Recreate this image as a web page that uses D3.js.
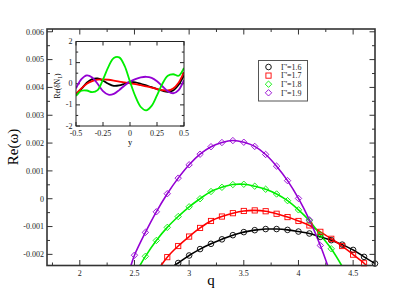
<!DOCTYPE html>
<html><head><meta charset="utf-8">
<script src="https://cdn.jsdelivr.net/npm/d3@7"></script>
<style>body{margin:0;background:#fff}svg{display:block}text{font-family:"Liberation Serif","Times New Roman",serif}</style>
</head><body>
<svg id="c" width="395" height="305"></svg>
<script>
// ---------- main chart data ----------
const seriesNames = ["Γ'=1.6", "Γ'=1.7", "Γ'=1.8", "Γ'=1.9"];
const seriesColors = ["#000000", "#ff0000", "#00ee00", "#9400d3"];
const seriesSymbols = ["circle", "square", "diamond", "diamond"];

const q16 = [2.9,3.0,3.1,3.2,3.3,3.4,3.5,3.6,3.7,3.8,3.9,4.0,4.1,4.2,4.3,4.4,4.5,4.6,4.7];
const w16 = [-0.00231,-0.00204,-0.00181,-0.00162,-0.00146,-0.00131,-0.00120,-0.00113,-0.00109,-0.00109,-0.00112,-0.00118,-0.00125,-0.00137,-0.00149,-0.00165,-0.00184,-0.00209,-0.00233];

const q17 = [2.8,2.9,3.0,3.1,3.2,3.3,3.4,3.5,3.6,3.7,3.8,3.9,4.0,4.1,4.2,4.3,4.4,4.5,4.6];
const w17 = [-0.00210,-0.00170,-0.00136,-0.00105,-0.00080,-0.00064,-0.00052,-0.00044,-0.00042,-0.00045,-0.00054,-0.00066,-0.00080,-0.00096,-0.00119,-0.00144,-0.00170,-0.00201,-0.00232];

const q18 = [2.6,2.7,2.8,2.9,3.0,3.1,3.2,3.3,3.4,3.5,3.6,3.7,3.8,3.9,4.0,4.1,4.2,4.3];
const w18 = [-0.00207,-0.00150,-0.00103,-0.00064,-0.00029,0.00000,0.00026,0.00041,0.00051,0.00052,0.00045,0.00034,0.00017,-0.00007,-0.00040,-0.00079,-0.00130,-0.00180];

const q19 = [2.5,2.6,2.7,2.8,2.9,3.0,3.1,3.2,3.3,3.4,3.5,3.6,3.7,3.8,3.9,4.0,4.1,4.2];
const w19 = [-0.00203,-0.00121,-0.00047,0.00018,0.00074,0.00122,0.00160,0.00187,0.00202,0.00209,0.00203,0.00188,0.00159,0.00117,0.00065,0.00001,-0.00076,-0.00168];

// where each curve leaves the plot
const lineStartQ = [2.864, 2.743, 2.55, 2.468];
const lineEndQ   = [4.70, 4.62, 4.395, 4.267];
const edgeW = -0.0024;

const xTicks = [2, 2.5, 3, 3.5, 4, 4.5];
const yTicks = [-0.002,-0.001,0,0.001,0.002,0.003,0.004,0.005,0.006];
const yTickLabels = ["-0.002","-0.001","0","0.001","0.002","0.003","0.004","0.005","0.006"];

// ---------- inset data ----------
const insetY = [-0.5,-0.45,-0.4,-0.35,-0.3,-0.25,-0.2,-0.15,-0.1,-0.05,0,0.05,0.1,0.15,0.2,0.25,0.3,0.35,0.4,0.45,0.5];
const n16 = [-0.55,-0.25,0.05,0.22,0.25,0.15,0.00,-0.10,-0.08,0.00,0.08,0.07,0.00,-0.08,-0.16,-0.25,-0.33,-0.38,-0.32,-0.05,0.40];
const n17 = [-0.48,-0.22,0.00,0.12,0.19,0.21,0.19,0.15,0.10,0.06,0.02,-0.02,-0.07,-0.12,-0.18,-0.25,-0.30,-0.32,-0.22,0.05,0.55];
const n18 = [-0.58,-0.33,-0.32,-0.40,-0.30,0.20,0.80,1.22,1.25,0.85,0.10,-0.60,-1.10,-1.26,-1.05,-0.55,0.00,0.38,0.45,0.38,0.75];
const n19 = [-0.22,0.22,0.40,0.30,0.00,-0.35,-0.52,-0.48,-0.30,-0.08,0.10,0.22,0.30,0.33,0.28,0.12,-0.12,-0.35,-0.45,-0.30,0.18];
const insetXTicks = [-0.5,-0.25,0,0.25,0.5];
const insetXLabels = ["-0.5","-0.25","0","0.25","0.5"];
const insetYTicks = [-2,-1,0,1,2];

// ---------- drawing ----------
const svg = d3.select("#c");
const L = 47, R = 375, T = 29, B = 265.5;
const x = d3.scaleLinear().domain([1.7, 4.7]).range([L, R]);
const y = d3.scaleLinear().domain([-0.0024, 0.0061]).range([B, T]);
const frameColor = "#333";

svg.append("defs").append("clipPath").attr("id","clipMain")
  .append("rect").attr("x",L).attr("y",T).attr("width",R-L).attr("height",B-T);

// ticks
const xMinor = d3.range(1.75, 4.71, 0.25).filter(v => Math.abs(v*2 - Math.round(v*2)) > 1e-6);
const yMinor = d3.range(-0.0015, 0.0061, 0.001);
const tg = svg.append("g").attr("stroke", frameColor).attr("stroke-width", 1);
function vt(v, len){
  tg.append("line").attr("x1",x(v)).attr("x2",x(v)).attr("y1",B).attr("y2",B-len);
  tg.append("line").attr("x1",x(v)).attr("x2",x(v)).attr("y1",T).attr("y2",T+len);
}
function ht(v, len){
  tg.append("line").attr("y1",y(v)).attr("y2",y(v)).attr("x1",L).attr("x2",L+len);
  tg.append("line").attr("y1",y(v)).attr("y2",y(v)).attr("x1",R).attr("x2",R-len);
}
xTicks.forEach(v => vt(v, 5.5));
xMinor.forEach(v => vt(v, 3));
yTicks.forEach(v => ht(v, 5.5));
yMinor.forEach(v => ht(v, 3));

// tick labels
svg.append("g").selectAll("text").data(xTicks).join("text")
  .attr("x", d => x(d)).attr("y", 275.5).attr("text-anchor","middle")
  .attr("font-size", 8).attr("fill","#222").text(d => String(d));
svg.append("g").selectAll("text").data(yTicks).join("text")
  .attr("x", 44).attr("y", d => y(d) + 2.8).attr("text-anchor","end")
  .attr("font-size", 8).attr("fill","#222").text((d,i) => yTickLabels[i]);

// axis titles
svg.append("text").attr("x", 211).attr("y", 285).attr("text-anchor","middle")
  .attr("font-size", 15).text("q");
svg.append("text").attr("transform","translate(18,147) rotate(-90)").attr("text-anchor","middle")
  .attr("font-size", 15).text("Re(ω)");

// series
const qs = [q16, q17, q18, q19];
const ws = [w16, w17, w18, w19];
const line = d3.line().x(d => x(d[0])).y(d => y(d[1])).curve(d3.curveCatmullRom.alpha(0.5));
const plot = svg.append("g").attr("clip-path","url(#clipMain)");
qs.forEach((qq, i) => {
  const pts = [[lineStartQ[i], edgeW]].concat(qq.map((q, j) => [q, ws[i][j]]));
  if (lineEndQ[i] > qq[qq.length-1] + 1e-6) pts.push([lineEndQ[i], edgeW]);
  plot.append("path").attr("d", line(pts)).attr("fill","none")
    .attr("stroke", seriesColors[i]).attr("stroke-width", 1.6);
});
function symbol(g, type, cx, cy, color){
  if (type === "circle") {
    g.append("circle").attr("cx",cx).attr("cy",cy).attr("r",2.8)
      .attr("fill","none").attr("stroke",color).attr("stroke-width",0.9);
  } else if (type === "square") {
    g.append("rect").attr("x",cx-2.6).attr("y",cy-2.6).attr("width",5.2).attr("height",5.2)
      .attr("fill","none").attr("stroke",color).attr("stroke-width",0.9);
  } else {
    const s = 3.2;
    g.append("path").attr("d",`M${cx},${cy-s}L${cx+s},${cy}L${cx},${cy+s}L${cx-s},${cy}Z`)
      .attr("fill","none").attr("stroke",color).attr("stroke-width",0.9);
  }
}
const mk = svg.append("g");
qs.forEach((qq, i) => qq.forEach((q, j) => symbol(mk, seriesSymbols[i], x(q), y(ws[i][j]), seriesColors[i])));

// frame
svg.append("rect").attr("x",L).attr("y",T).attr("width",R-L).attr("height",B-T)
  .attr("fill","none").attr("stroke",frameColor).attr("stroke-width",1.6);

// legend
const lg = svg.append("g");
lg.append("rect").attr("x",258.5).attr("y",60.5).attr("width",49).attr("height",40.5)
  .attr("fill","#fff").attr("stroke","#555").attr("stroke-width",1);
seriesNames.forEach((nm, i) => {
  const cy = 67 + i*8.6;
  symbol(lg, seriesSymbols[i], 268.5, cy, seriesColors[i]);
  lg.append("text").attr("x", 281).attr("y", cy + 2.8).attr("font-size", 8).attr("fill","#222").text(nm);
});

// ---------- inset ----------
const iL = 76, iR = 184, iT = 41.5, iB = 126;
const ix = d3.scaleLinear().domain([-0.5, 0.5]).range([iL, iR]);
const iy = d3.scaleLinear().domain([-2, 2]).range([iB, iT]);
const ins = svg.append("g");
ins.append("rect").attr("x",iL).attr("y",iT).attr("width",iR-iL).attr("height",iB-iT).attr("fill","#fff");
ins.append("defs").append("clipPath").attr("id","clipIn")
  .append("rect").attr("x",iL).attr("y",iT).attr("width",iR-iL).attr("height",iB-iT);
const itg = ins.append("g").attr("stroke","#222").attr("stroke-width",1);
insetXTicks.forEach(v => {
  itg.append("line").attr("x1",ix(v)).attr("x2",ix(v)).attr("y1",iB).attr("y2",iB-4);
  itg.append("line").attr("x1",ix(v)).attr("x2",ix(v)).attr("y1",iT).attr("y2",iT+4);
});
d3.range(-2, 2.01, 0.5).forEach(v => {
  const len = Number.isInteger(v) ? 4 : 2.2;
  itg.append("line").attr("y1",iy(v)).attr("y2",iy(v)).attr("x1",iL).attr("x2",iL+len);
  itg.append("line").attr("y1",iy(v)).attr("y2",iy(v)).attr("x1",iR).attr("x2",iR-len);
});
const iline = d3.line().x(d => ix(d[0])).y(d => iy(d[1])).curve(d3.curveCatmullRom.alpha(0.5));
const ipl = ins.append("g").attr("clip-path","url(#clipIn)");
const insetSeries = [n16, n17, n18, n19];
[0, 1, 3, 2].forEach(idx => {
  ipl.append("path").attr("d", iline(insetY.map((v, j) => [v, insetSeries[idx][j]])))
    .attr("fill","none").attr("stroke", seriesColors[idx]).attr("stroke-width", 1.8);
});
ins.append("rect").attr("x",iL).attr("y",iT).attr("width",iR-iL).attr("height",iB-iT)
  .attr("fill","none").attr("stroke","#222").attr("stroke-width",1);
ins.append("g").selectAll("text").data(insetXTicks).join("text")
  .attr("x", d => ix(d)).attr("y", 135.8).attr("text-anchor","middle").attr("font-size", 8)
  .attr("fill","#222").text((d,i) => insetXLabels[i]);
ins.append("g").selectAll("text").data(insetYTicks).join("text")
  .attr("x", 72.5).attr("y", d => iy(d) + 2.5).attr("text-anchor","end").attr("font-size", 8)
  .attr("fill","#222").text(d => String(d));
ins.append("text").attr("x", 130).attr("y", 144.5).attr("text-anchor","middle").attr("font-size", 8.5).text("y");
const yl = ins.append("text").attr("transform","translate(60,86) rotate(-90)").attr("text-anchor","middle").attr("font-size", 7.5);
yl.append("tspan").text("Re(δN");
yl.append("tspan").attr("font-size", 5.5).attr("dy", 2).text("1");
yl.append("tspan").attr("dy", -2).text(")");
</script>
</body></html>
